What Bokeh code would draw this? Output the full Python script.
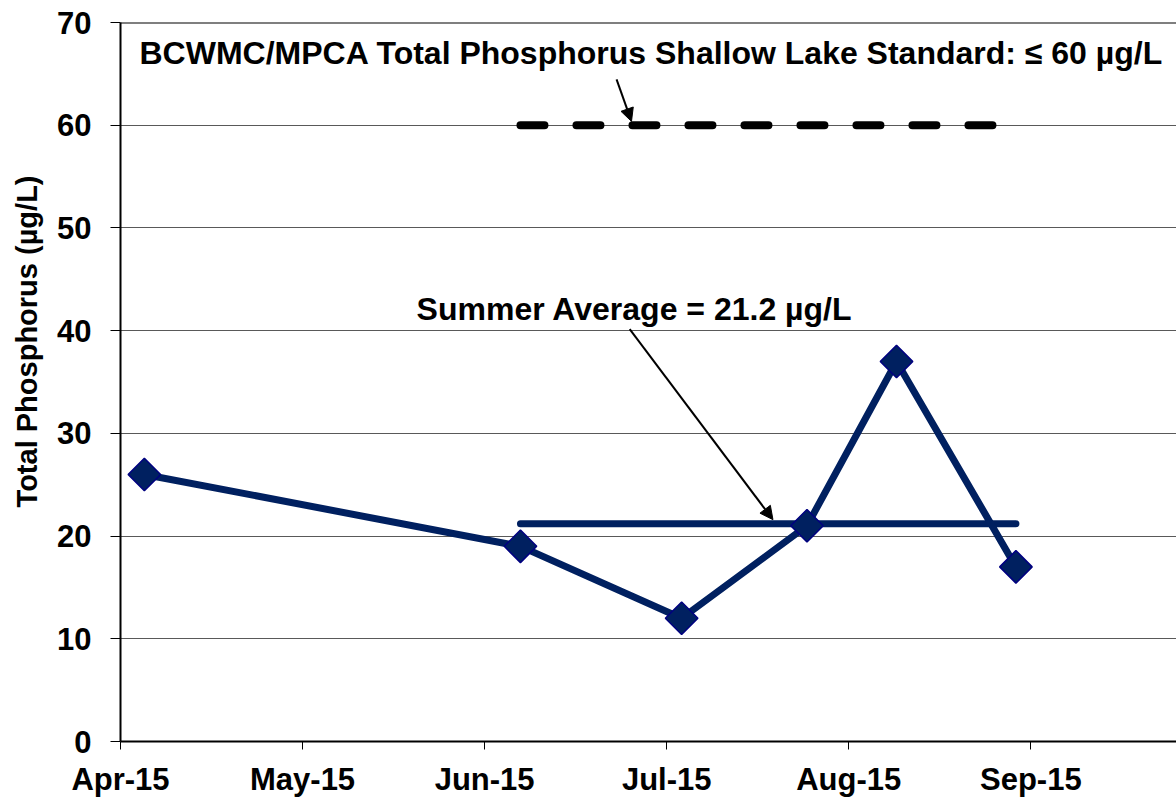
import numpy as np
import pandas as pd
from bokeh.plotting import figure
from bokeh.models import (Range1d, FixedTicker, Label, Arrow, NormalHead, Span,
                          ColumnDataSource, Title)
from bokeh.embed import file_html
from bokeh.resources import INLINE

# ---------------- data ----------------
sample_dates = ["2015-04-05", "2015-06-07", "2015-07-04", "2015-07-25", "2015-08-09", "2015-08-29"]
tp_values = [26, 19, 12, 21, 37, 17]          # Total phosphorus, ug/L
summer_avg = 21.2
standard_value = 60
summer_span = ["2015-06-07", "2015-08-29"]     # extent of average / standard lines
month_labels = ["Apr-15", "May-15", "Jun-15", "Jul-15", "Aug-15", "Sep-15"]
y_ticks = [0, 10, 20, 30, 40, 50, 60, 70]

origin = pd.Timestamp("2015-04-01")
DAYS_PER_MONTH = 30.5


def to_day(d):
    return (pd.Timestamp(d) - origin).days


sample_days = [to_day(d) for d in sample_dates]
span_days = [to_day(d) for d in summer_span]
month_pos = [i * DAYS_PER_MONTH for i in range(len(month_labels))]

NAVY = "#002060"
FONT = "Liberation Sans"

src = ColumnDataSource(dict(day=sample_days, tp=tp_values))

p = figure(width=1176, height=799,
           x_range=Range1d(0, 176.9), y_range=Range1d(0, 70),
           output_backend="svg", toolbar_location=None,
           min_border_left=120, min_border_right=0,
           min_border_top=22, min_border_bottom=57)
p.outline_line_color = None
p.background_fill_color = "white"
p.border_fill_color = "white"

# axes
p.xaxis.ticker = FixedTicker(ticks=month_pos)
p.xaxis.major_label_overrides = {pos: lab for pos, lab in zip(month_pos, month_labels)}
p.yaxis.ticker = FixedTicker(ticks=y_ticks)
for ax in (p.xaxis, p.yaxis):
    ax.axis_line_color = "black"
    ax.axis_line_width = 2
    ax.major_tick_line_color = "black"
    ax.major_tick_line_width = 1
    ax.major_tick_in = 0
    ax.minor_tick_line_color = None
    ax.major_label_text_font = FONT
    ax.major_label_text_font_style = "bold"
    ax.major_label_text_font_size = "31px"
    ax.major_label_text_color = "black"
p.xaxis.major_tick_out = 8
p.xaxis.major_label_standoff = 12
p.yaxis.major_tick_out = 10
p.yaxis.major_label_standoff = 19

p.xgrid.grid_line_color = None
p.ygrid.ticker = FixedTicker(ticks=y_ticks)
p.ygrid.grid_line_color = "#595959"
p.ygrid.grid_line_width = 1

p.add_layout(Span(location=70, dimension="width", line_color="black", line_width=2))

# y axis title
p.add_layout(Title(text="Total Phosphorus (µg/L)", align="right", offset=153,
                   vertical_align="top", standoff=20,
                   text_font=FONT, text_font_style="bold", text_font_size="29px",
                   text_color="black"), "left")

# standard line
p.line(x=span_days, y=[standard_value] * 2, line_color="black", line_width=8,
       line_dash="24 32", line_cap="round")
# summer average line
p.line(x=span_days, y=[summer_avg] * 2, line_color=NAVY, line_width=7, line_cap="round")
# data series
p.line(x="day", y="tp", source=src, line_color=NAVY, line_width=7, line_join="round")
p.scatter(x="day", y="tp", source=src, marker="square", size=23, angle=np.pi / 4,
          fill_color=NAVY, line_color="#000080", line_width=1.5)

# annotations
p.add_layout(Label(x=3.18, y=67.0,
                   text="BCWMC/MPCA Total Phosphorus Shallow Lake Standard: \u2264 60 µg/L",
                   text_align="left", text_baseline="alphabetic",
                   text_font=FONT, text_font_style="bold", text_font_size="32px",
                   text_color="black"))
p.add_layout(Label(x=49.6, y=42.1, text="Summer Average = 21.2 µg/L",
                   text_align="left", text_baseline="alphabetic",
                   text_font=FONT, text_font_style="bold", text_font_size="32px",
                   text_color="black"))

p.add_layout(Arrow(end=NormalHead(size=13, fill_color="black", line_color="black"),
                   x_start=83.1, y_start=64.46, x_end=85.6, y_end=60.37,
                   line_color="black", line_width=2))
p.add_layout(Arrow(end=NormalHead(size=13, fill_color="black", line_color="black"),
                   x_start=85.3, y_start=40.15, x_end=109.3, y_end=21.6,
                   line_color="black", line_width=2))

open("out.html", "w").write(file_html(p, INLINE))
